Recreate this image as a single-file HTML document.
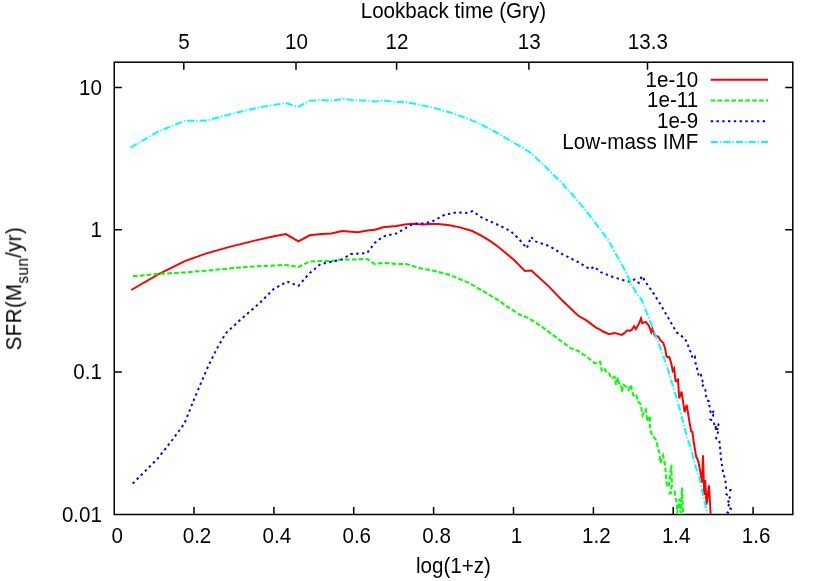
<!DOCTYPE html>
<html><head><meta charset="utf-8"><title>plot</title>
<style>
html,body{margin:0;padding:0;background:#fff;}
svg{display:block;}
g.t{opacity:0.999}
text{font-family:"Liberation Sans",sans-serif;font-size:20.6px;fill:#000;}
</style></head><body>
<svg width="830" height="581" viewBox="0 0 830 581">
<rect width="830" height="581" fill="#fff"/>
<path d="M194.0,514.5v-7.6M273.9,514.5v-7.6M353.7,514.5v-7.6M433.6,514.5v-7.6M513.5,514.5v-7.6M593.4,514.5v-7.6M673.2,514.5v-7.6M753.1,514.5v-7.6M183.8,62.2v7.6M296.0,62.2v7.6M396.6,62.2v7.6M528.9,62.2v7.6M647.5,62.2v7.6M114.25,87.4h7.6M792.8,87.4h-7.6M114.25,229.7h7.6M792.8,229.7h-7.6M114.25,372.0h7.6M792.8,372.0h-7.6" stroke="#000" stroke-width="1.5" fill="none"/>
<rect x="114.25" y="62.2" width="678.55" height="452.3" fill="none" stroke="#000" stroke-width="1.5"/>
<g class="t">
<text transform="translate(117.13,542.70) scale(1,1.07)" text-anchor="middle">0</text>
<text transform="translate(197.00,542.70) scale(1,1.07)" text-anchor="middle">0.2</text>
<text transform="translate(276.87,542.70) scale(1,1.07)" text-anchor="middle">0.4</text>
<text transform="translate(356.75,542.70) scale(1,1.07)" text-anchor="middle">0.6</text>
<text transform="translate(436.62,542.70) scale(1,1.07)" text-anchor="middle">0.8</text>
<text transform="translate(516.49,542.70) scale(1,1.07)" text-anchor="middle">1</text>
<text transform="translate(596.36,542.70) scale(1,1.07)" text-anchor="middle">1.2</text>
<text transform="translate(676.23,542.70) scale(1,1.07)" text-anchor="middle">1.4</text>
<text transform="translate(756.11,542.70) scale(1,1.07)" text-anchor="middle">1.6</text>
<text transform="translate(183.95,48.70) scale(1,1.07)" text-anchor="middle">5</text>
<text transform="translate(296.40,48.70) scale(1,1.07)" text-anchor="middle">10</text>
<text transform="translate(397.00,48.70) scale(1,1.07)" text-anchor="middle">12</text>
<text transform="translate(529.30,48.70) scale(1,1.07)" text-anchor="middle">13</text>
<text transform="translate(647.90,48.70) scale(1,1.07)" text-anchor="middle">13.3</text>
<text transform="translate(102.00,94.70) scale(1,1.07)" text-anchor="end">10</text>
<text transform="translate(102.00,237.00) scale(1,1.07)" text-anchor="end">1</text>
<text transform="translate(102.00,379.30) scale(1,1.07)" text-anchor="end">0.1</text>
<text transform="translate(102.00,521.80) scale(1,1.07)" text-anchor="end">0.01</text>
<text transform="translate(453.40,17.50) scale(1,1.07)" text-anchor="middle">Lookback time (Gry)</text>
<text transform="translate(453.40,573.35) scale(1,1.07)" text-anchor="middle">log(1+z)</text>
<text transform="translate(21.5,288.6) rotate(-90) scale(1,1.07)" text-anchor="middle" letter-spacing="0.3">SFR(M<tspan font-size="15.4px" dy="6.3">sun</tspan><tspan dy="-6.3">/yr)</tspan></text>
<text transform="translate(698.20,86.70) scale(1,1.07)" text-anchor="end">1e-10</text>
<text transform="translate(698.20,107.40) scale(1,1.07)" text-anchor="end">1e-11</text>
<text transform="translate(698.20,128.10) scale(1,1.07)" text-anchor="end">1e-9</text>
<text transform="translate(698.40,148.80) scale(1,1.07)" text-anchor="end" letter-spacing="0.1">Low-mass IMF</text>
</g>
<path d="M710.7,79.8H768" stroke="#f00" stroke-width="2" fill="none"/>
<path d="M710.7,100.5H768" stroke="#0f0" stroke-width="2" fill="none" stroke-dasharray="4.7,2.2"/>
<path d="M710.7,121.2H768" stroke="#00f" stroke-width="2" fill="none" stroke-dasharray="2.4,3.37"/>
<path d="M710.7,141.9H768" stroke="#0ff" stroke-width="2" fill="none" stroke-dasharray="7.2,2.1,1.2,2.1"/>
<clipPath id="c"><rect x="114.25" y="62.2" width="678.55" height="452.3"/></clipPath>
<g clip-path="url(#c)" fill="none" stroke-width="2" stroke-linejoin="miter">
<polyline points="131.2,290.0 158.2,274.3 184.7,261.1 206.4,253.4 230.5,246.6 254.6,240.6 273.9,236.3 285.9,234.1 298.4,241.3 309.6,235.3 321.7,234.1 331.3,233.4 342.2,231.0 357.8,232.2 367.5,230.5 374.7,229.8 383.1,227.3 396.4,226.1 404.8,224.5 413.3,223.7 422.9,224.5 430.1,224.0 438.6,224.0 449.4,225.2 459.0,227.1 472.3,231.0 480.7,235.3 490.4,241.1 500.0,248.3 514.1,260.1 524.9,271.0 531.4,270.5 549.0,286.6 562.3,300.6 578.0,315.5 586.4,320.4 596.0,327.6 600.0,329.7 603.0,331.5 606.0,332.7 608.4,333.9 611.4,333.7 614.5,333.0 618.1,333.9 621.7,334.9 624.7,332.7 627.1,330.3 629.5,330.9 631.9,329.7 634.1,326.1 635.8,329.1 638.6,324.3 641.0,318.5 642.2,323.1 645.8,321.9 648.8,325.5 651.2,332.1 652.4,328.5 654.8,335.7 658.4,336.6 660.2,339.9 663.3,343.0 665.1,348.4 666.3,355.6 667.5,357.4 669.3,357.0 671.1,362.8 672.7,370.7 674.1,368.3 675.5,380.8 678.0,379.6 679.2,398.3 681.6,391.7 684.6,412.2 686.7,404.9 689.4,421.8 691.2,431.4 692.4,432.0 693.4,440.0 696.1,456.5 698.2,460.7 700.3,471.7 702.0,482.5 703.0,455.2 704.2,495.0 705.2,480.0 706.5,504.7 709.0,485.5 710.6,513.7" stroke="#f00"/>
<polyline points="132.9,276.3 158.2,273.9 184.7,272.4 206.4,270.7 230.5,268.3 254.6,266.4 285.9,264.9 298.4,266.9 309.6,261.6 321.7,261.1 331.3,261.1 342.2,259.4 357.8,259.4 367.0,258.9 374.7,264.0 383.1,262.8 396.4,264.0 406.0,264.0 420.5,268.3 434.9,271.0 449.4,274.8 468.7,282.8 483.1,291.2 500.0,301.3 504.5,304.7 518.9,314.3 528.6,318.0 543.0,327.6 557.5,338.4 570.7,348.1 578.0,351.0 586.4,356.5 594.5,363.1 600.2,361.7 601.7,370.4 604.6,368.2 605.3,371.1 608.9,372.5 611.1,378.3 614.7,376.9 615.9,384.8 617.9,377.6 619.0,383.4 621.2,384.8 621.9,392.0 623.4,384.8 626.6,387.0 628.4,389.9 630.9,384.8 632.0,391.3 634.2,397.1 636.4,395.7 637.8,401.4 640.7,404.3 642.5,415.2 644.3,410.8 645.8,409.4 646.8,416.6 647.0,421.4 649.9,415.7 649.9,428.9 652.7,436.5 655.6,439.3 659.3,452.6 660.3,463.0 663.1,455.4 665.0,464.9 666.9,485.7 668.8,486.7 671.3,464.9 672.0,485.7 669.7,493.3 674.5,491.4 676.4,500.9 677.3,513.2 679.6,499.0 680.7,513.2 682.0,487.6 683.0,513.2" stroke="#0f0" stroke-dasharray="4.7,2.2"/>
<polyline points="132.7,483.6 157.5,458.8 172.0,440.3 184.3,423.7 195.0,397.1 207.3,368.2 216.7,348.9 225.7,333.3 240.1,320.0 259.4,303.3 273.9,288.8 287.1,281.6 298.4,285.9 309.6,273.1 320.5,264.2 331.3,261.8 342.2,259.4 350.6,254.1 367.0,253.1 374.7,243.0 383.1,236.5 396.4,233.4 404.8,228.6 413.3,223.7 422.9,223.3 431.3,222.0 444.6,214.8 456.6,212.4 466.3,212.9 472.3,211.2 483.1,218.4 500.0,225.7 511.0,231.5 518.7,238.7 526.8,248.2 531.1,237.0 535.1,241.3 549.7,246.2 562.3,254.1 578.0,262.0 590.0,269.3 594.1,266.6 600.8,272.2 612.9,277.0 624.9,280.6 629.8,281.8 634.6,279.4 638.8,282.9 641.9,276.0 645.2,281.4 653.9,293.9 663.5,309.5 673.1,326.4 676.9,332.6 684.6,338.3 687.2,342.9 689.8,350.6 691.5,353.2 692.4,358.4 694.9,356.7 695.8,364.4 698.4,373.0 698.4,376.8 701.0,375.1 702.7,381.6 704.4,383.3 702.7,385.9 705.3,389.4 706.1,396.2 707.0,400.5 709.2,401.4 709.6,409.1 711.3,414.3 713.9,410.9 713.0,416.0 710.4,419.5 713.9,421.2 714.7,428.1 719.0,423.8 716.1,428.9 719.0,428.9 716.1,438.4 719.3,440.3 720.9,457.3 722.7,470.6 725.1,479.3 725.8,484.1 726.2,488.9 730.4,490.0 726.6,494.5 730.6,496.5 727.0,500.5 730.8,503.0 727.3,506.5 731.0,509.0 727.6,512.5 731.2,514.5" stroke="#00f" stroke-dasharray="2.4,3.37"/>
<polyline points="130.5,147.6 158.2,131.4 184.7,120.8 206.4,120.6 230.5,114.1 259.4,107.3 285.9,103.0 298.0,106.9 309.6,100.8 321.7,100.1 331.3,100.6 343.4,98.9 357.8,100.6 367.5,100.4 374.7,101.6 383.1,100.4 396.4,102.0 404.8,101.8 420.5,104.9 434.9,108.1 449.4,112.2 468.7,118.9 483.1,125.4 500.0,134.6 509.3,140.1 529.3,151.7 545.4,166.6 559.9,181.1 574.3,196.7 586.4,211.2 598.4,226.9 608.1,240.0 619.3,260.0 625.9,272.0 631.3,284.1 636.1,292.5 641.6,299.8 646.4,311.8 653.0,328.7 657.3,340.0 666.7,365.3 675.4,394.2 680.0,410.0 687.3,438.4 691.3,449.6 695.5,466.2 699.6,478.6 703.0,495.1 707.4,513.7" stroke="#0ff" stroke-dasharray="7.2,2.1,1.2,2.1"/>
</g>
</svg>
</body></html>
